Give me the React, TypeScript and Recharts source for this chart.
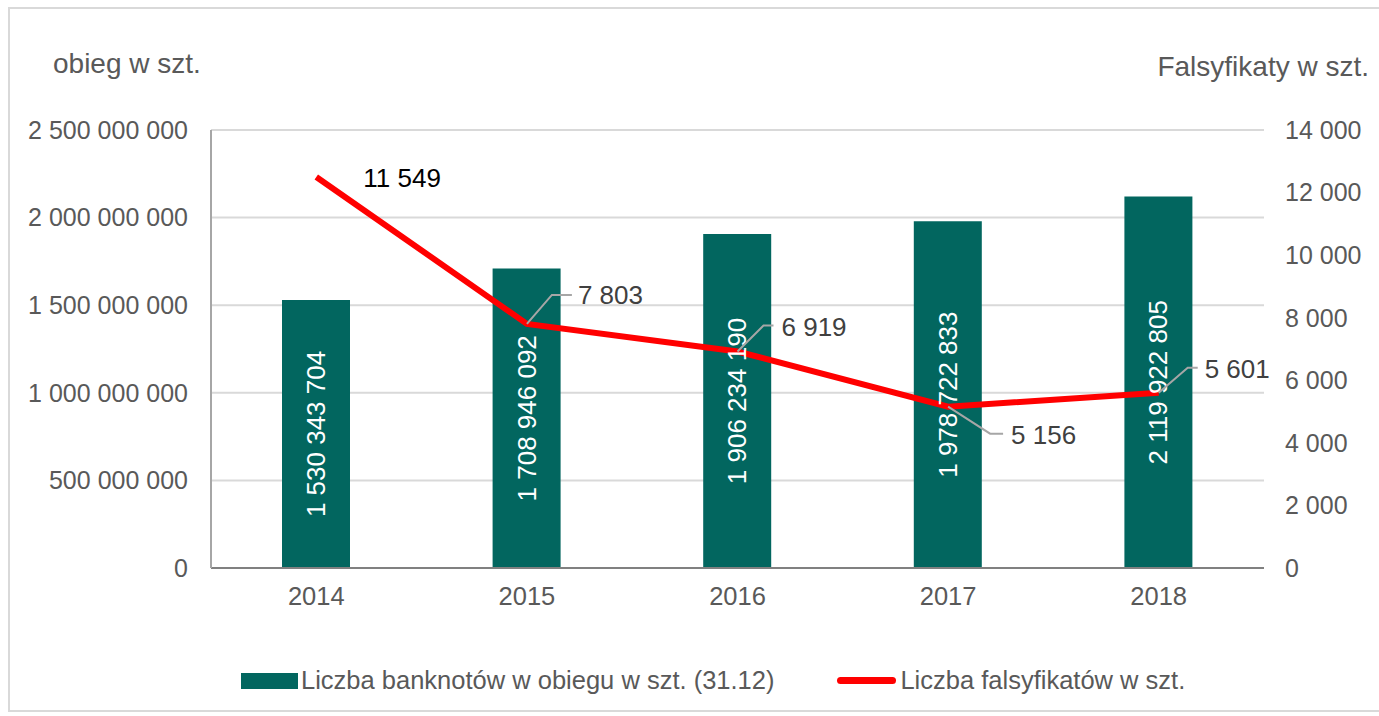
import React from 'react';
import { ComposedChart, Bar, Line, XAxis, YAxis, CartesianGrid, LabelList, Legend } from 'recharts';

// Categories
const years = ['2014', '2015', '2016', '2017', '2018'];
// Banknotes in circulation (31.12)
const banknotes = [1530343704, 1708946092, 1906234190, 1978722833, 2119922805];
// Counterfeit counts as labelled in the chart
const counterfeitLabels = [11549, 7803, 6919, 5156, 5601];
// Counterfeit line as plotted in the picture (first point sits at ~12 500)
const counterfeitPlot = [12500, 7803, 6919, 5156, 5601];
// Axis ticks
const leftTicks = [0, 500000000, 1000000000, 1500000000, 2000000000, 2500000000];
const rightTicks = [0, 2000, 4000, 6000, 8000, 10000, 12000, 14000];

const barName = 'Liczba banknotów w obiegu w szt. (31.12)';
const lineName = 'Liczba falsyfikatów w szt.';
const leftTitle = 'obieg w szt.';
const rightTitle = 'Falsyfikaty w szt.';

const data = years.map((y, i) => ({
  year: y,
  banknotes: banknotes[i],
  counterfeits: counterfeitPlot[i],
}));

// label leader layout relative to the point
const lineLabelLayout = [
  { lx: 0, ly: 0, ex: 0, tx: 47, ty: 1, leader: false, color: '#000000' },
  { lx: 25, ly: -29, ex: 20, tx: 51, ty: -29, leader: true, color: '#404040' },
  { lx: 26, ly: -26, ex: 10, tx: 44, ty: -25, leader: true, color: '#404040' },
  { lx: 42, ly: 27, ex: 13, tx: 63, ty: 28, leader: true, color: '#404040' },
  { lx: 29, ly: -25, ex: 10, tx: 46, ty: -24, leader: true, color: '#404040' },
];

const FONT = '"Liberation Sans", Arial, sans-serif';
const GRAY = '#595959';

const fmt = (n: number) => String(n).replace(/\B(?=(\d{3})+(?!\d))/g, ' ');

const renderBarLabel = (props: any) => {
  const { x, y, width, height, value } = props;
  const cx = x + width / 2;
  const cy = y + height / 2;
  return (
    <text
      x={cx}
      y={cy}
      transform={`rotate(-90 ${cx} ${cy})`}
      textAnchor="middle"
      dominantBaseline="central"
      fill="#ffffff"
      fontSize={26}
      fontFamily={FONT}
    >
      {fmt(value)}
    </text>
  );
};

const renderLineLabel = (props: any) => {
  const { x, y, index } = props;
  const lay = lineLabelLayout[index];
  const label = fmt(counterfeitLabels[index]);
  return (
    <g>
      {lay.leader && (
        <polyline
          points={`${x},${y} ${x + lay.lx},${y + lay.ly} ${x + lay.lx + lay.ex},${y + lay.ly}`}
          fill="none"
          stroke="#a6a6a6"
          strokeWidth={2}
        />
      )}
      <text
        x={x + lay.tx}
        y={y + lay.ty}
        dominantBaseline="central"
        fill={lay.color}
        fontSize={26}
        fontFamily={FONT}
      >
        {label}
      </text>
    </g>
  );
};

const renderLegend = () => (
  <div style={{ display: 'flex', alignItems: 'center', marginLeft: 241, fontFamily: FONT, fontSize: 25.5, color: GRAY, whiteSpace: 'nowrap' }}>
    <span style={{ display: 'inline-block', width: 57, height: 16, background: '#02665f', marginRight: 3 }} />
    <span>{barName}</span>
    <span style={{ display: 'inline-block', width: 59, height: 7, borderRadius: 4, background: '#ff0000', marginLeft: 63, marginRight: 4 }} />
    <span>{lineName}</span>
  </div>
);

const LeftTitle = (props: any) => {
  const vb = props.viewBox || { x: 0, y: 130 };
  return (
    <text x={vb.x + 53} y={vb.y - 57} fill={GRAY} fontSize={28} fontFamily={FONT}>
      {leftTitle}
    </text>
  );
};

const RightTitle = (props: any) => {
  const vb = props.viewBox || { x: 1264, y: 130, width: 115 };
  return (
    <text x={vb.x + vb.width - 10} y={vb.y - 54} textAnchor="end" fill={GRAY} fontSize={28} fontFamily={FONT}>
      {rightTitle}
    </text>
  );
};

export default function App() {
  return (
    <div style={{ position: 'relative', width: 1379, height: 716, overflow: 'hidden', background: '#fff', fontFamily: FONT }}>
      <style>{`body{margin:0;}`}</style>
      <div style={{ position: 'absolute', left: 8, top: 7, width: 1420, height: 705, border: '2px solid #d9d9d9', boxSizing: 'border-box' }} />
      <div style={{ position: 'absolute', left: 0, top: 0 }}>
        <ComposedChart width={1379} height={716} data={data} margin={{ top: 130, right: 0, left: 0, bottom: 108 }}>
          <CartesianGrid yAxisId="left" vertical={false} stroke="#d9d9d9" strokeWidth={2} />
          <XAxis
            dataKey="year"
            height={40}
            axisLine={{ stroke: '#808080', strokeWidth: 2 }}
            tickLine={false}
            tickSize={0}
            tickMargin={19}
            tick={{ fill: GRAY, fontSize: 25.5, fontFamily: FONT }}
          />
          <YAxis
            yAxisId="left"
            width={211}
            domain={[0, 2500000000]}
            ticks={leftTicks}
            tickFormatter={fmt}
            axisLine={{ stroke: '#a6a6a6', strokeWidth: 2 }}
            tickLine={false}
            tickSize={0}
            tickMargin={23}
            tick={{ fill: GRAY, fontSize: 25, fontFamily: FONT }}
            label={{ content: <LeftTitle /> }}
          />
          <YAxis
            yAxisId="right"
            orientation="right"
            width={115}
            domain={[0, 14000]}
            ticks={rightTicks}
            tickFormatter={fmt}
            axisLine={false}
            tickLine={false}
            tickSize={0}
            tickMargin={21}
            tick={{ fill: GRAY, fontSize: 25, fontFamily: FONT, textAnchor: 'start' }}
            label={{ content: <RightTitle /> }}
          />
          <Legend
            layout="horizontal"
            verticalAlign="middle"
            align="center"
            content={renderLegend}
            wrapperStyle={{ top: 666, left: 0, width: 1379 }}
          />
          <Bar yAxisId="left" dataKey="banknotes" name={barName} fill="#02665f" barSize={68} isAnimationActive={false}>
            <LabelList dataKey="banknotes" content={renderBarLabel} />
          </Bar>
          <Line
            yAxisId="right"
            dataKey="counterfeits"
            name={lineName}
            type="linear"
            stroke="#ff0000"
            strokeWidth={6}
            dot={false}
            activeDot={false}
            isAnimationActive={false}
          >
            <LabelList dataKey="counterfeits" content={renderLineLabel} />
          </Line>
        </ComposedChart>
      </div>
    </div>
  );
}
